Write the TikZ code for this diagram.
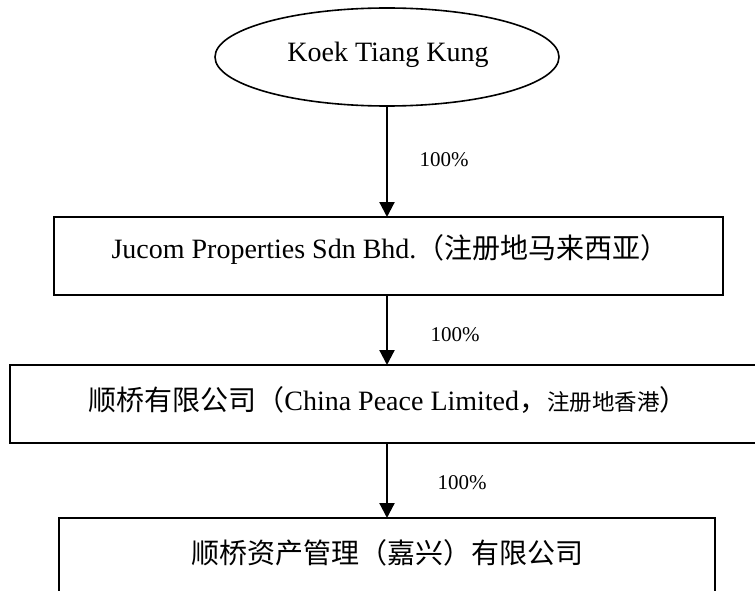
\documentclass[tikz,border=0pt]{standalone}
\usepackage{fontspec}
\setmainfont{Liberation Serif}
\newfontfamily\cjk{Noto Sans CJK SC}
\usetikzlibrary{shapes.geometric,arrows.meta}
\newcommand{\bigf}{\fontsize{28}{33}\selectfont}
\newcommand{\smallf}{\fontsize{22.5}{27}\selectfont}
\newcommand{\pctf}{\fontsize{21}{26}\selectfont}
\tikzset{
  boxstyle/.style={draw=black, line width=2pt, rectangle, inner sep=0pt},
  ownerstyle/.style={draw=black, line width=1.6pt, ellipse, inner sep=0pt, minimum width=344pt, minimum height=98pt},
  txtstyle/.style={inner sep=0pt, font=\bigf},
  pctstyle/.style={inner sep=0pt, font=\pctf},
  arrstyle/.style={line width=2.2pt, -{Triangle[length=15pt,width=15pt]}, shorten >=-1pt}
}
\begin{document}
\begin{tikzpicture}[x=1pt,y=-1pt]
\useasboundingbox (0,0) rectangle (755,591);
\clip (0,0) rectangle (755,591);
% owner
\node[ownerstyle] (owner) at (387,57) {};
\node[txtstyle] (ownertxt) at (388,55) {Koek Tiang Kung};
% box 1
\node[boxstyle, minimum width=669pt, minimum height=78pt] (jucom) at (388.5,256) {};
\node[txtstyle] (jucomtxt) at (390,249) {Jucom Properties Sdn Bhd.{\cjk （注册地马来西亚）}};
% box 2
\node[boxstyle, minimum width=770pt, minimum height=78pt, anchor=north west] (peace) at (9,364) {};
\node[txtstyle] (peacetxt) at (388,400) {{\cjk 顺桥有限公司（}China Peace Limited{\cjk ，{\smallf 注册地香港}）}};
% box 3
\node[boxstyle, minimum width=656pt, minimum height=120pt, anchor=north west] (jiaxing) at (58,517) {};
\node[txtstyle] (jiaxingtxt) at (387,553) {\cjk 顺桥资产管理（嘉兴）有限公司};
% arrows
\draw[arrstyle] (owner.south) -- (owner.south |- jucom.north);
\draw[arrstyle] (owner.south |- jucom.south) -- (owner.south |- peace.north);
\draw[arrstyle] (owner.south |- peace.south) -- (owner.south |- jiaxing.north);
% percentages
\node[pctstyle] (p1) at (444,160) {100\%};
\node[pctstyle] (p2) at (455,335) {100\%};
\node[pctstyle] (p3) at (462,483) {100\%};
\end{tikzpicture}
\end{document}
